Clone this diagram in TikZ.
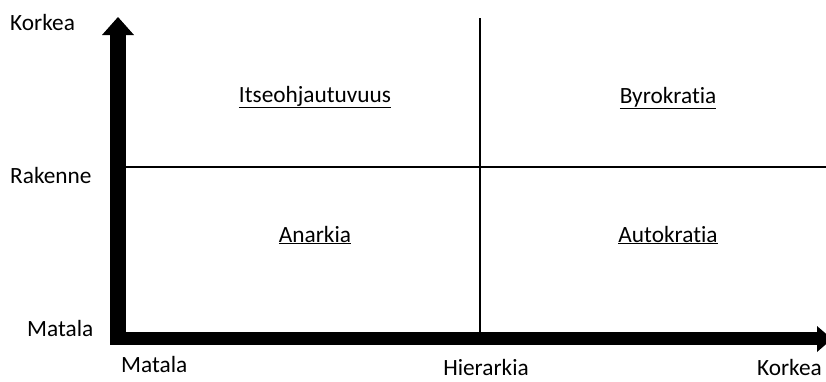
\documentclass[tikz,border=0pt]{standalone}
\usepackage{fontspec}
\setmainfont[Ligatures=NoCommon]{Carlito}
\begin{document}
\begin{tikzpicture}[x=1pt,y=-1pt,
  lbl/.style={inner sep=0pt,font=\fontsize{23.3}{26}\selectfont},
  thin/.style={line width=1.2pt}]
\useasboundingbox (0,0) rectangle (826,381);
\clip (0,0) rectangle (826,381);
% coordinates
\coordinate (o) at (118,339);
\coordinate (ytop) at (118,35);
\coordinate (xend) at (818,339);
% thin divider lines
\coordinate (vtop) at (480,18);
\coordinate (vbot) at (480,333);
\coordinate (hl) at (126,167);
\coordinate (hr) at (826,167);
\draw[thin] (vtop) -- (vbot);
\draw[thin] (hl) -- (hr);
% vertical axis
\fill (110,345) rectangle (126,35);
\fill (102,35) -- (134,35) -- (118,17) -- cycle;
% horizontal axis
\fill (110,332) rectangle (818,345);
\fill (817,326) -- (817,352) -- (832,339) -- cycle;
% labels
\node[lbl,anchor=base west] (k1) at (10,30) {Korkea};
\node[lbl,anchor=base west] (r) at (10,183) {Rakenne};
\node[lbl,anchor=base west] (m1) at (27,336) {Matala};
\node[lbl,anchor=base west] (m2) at (121,372) {Matala};
\node[lbl,anchor=base] (h) at (486,375.5) {Hierarkia};
\node[lbl,anchor=base east] (k2) at (822,375.5) {Korkea};
\node[lbl,anchor=base] (q1) at (315,102) {\underline{Itseohjautuvuus}};
\node[lbl,anchor=base] (q2) at (668,103) {\underline{Byrokratia}};
\node[lbl,anchor=base] (q3) at (315,242) {\underline{Anarkia}};
\node[lbl,anchor=base] (q4) at (668,242) {\underline{Autokratia}};
\end{tikzpicture}
\end{document}
